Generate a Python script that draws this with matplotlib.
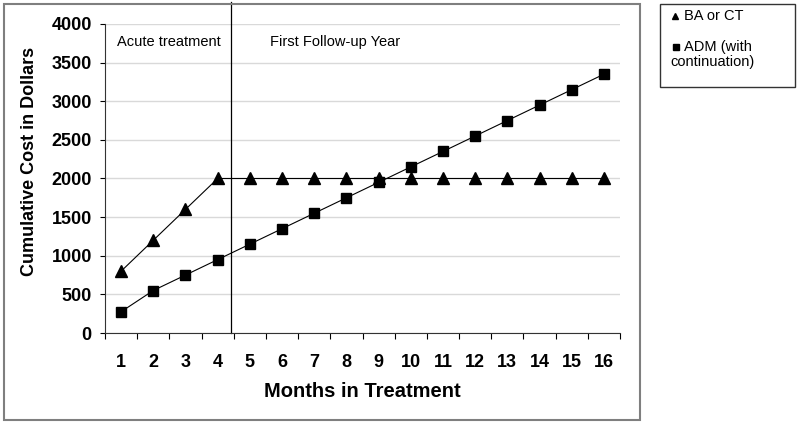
import matplotlib.pyplot as plt
from matplotlib.lines import Line2D
from matplotlib.patches import Rectangle

plt.rcParams['font.family'] = ['Liberation Sans', 'DejaVu Sans']

# ======================================================
# Data
# ======================================================

months = list(range(1, 17))
ba_ct = [800, 1200, 1600, 2000, 2000, 2000, 2000, 2000,
         2000, 2000, 2000, 2000, 2000, 2000, 2000, 2000]
adm = [275, 550, 750, 950, 1150, 1350, 1550, 1750,
       1950, 2150, 2350, 2550, 2750, 2950, 3150, 3350]
y_ticks = [0, 500, 1000, 1500, 2000, 2500, 3000, 3500, 4000]
phase_split = 4.41

W, H = 800, 426
fig = plt.figure(figsize=(W / 100, H / 100), dpi=100)
ax = fig.add_axes([105 / W, 1 - 333 / H, (620 - 105) / W, (333 - 24) / H])

# ======================================================
# Series
# ======================================================

ax.plot(months, ba_ct, color='black', lw=0.8, marker='^', ms=8.5,
        zorder=3, clip_on=False)
ax.plot(months, adm, color='black', lw=0.8, marker='s', ms=7,
        zorder=3, clip_on=False)

# ======================================================
# Axes
# ======================================================

ax.set_xlim(0.5, 16.5)
ax.set_ylim(0, 4000)
ax.set_yticks(y_ticks)
ax.set_yticklabels([str(v) for v in y_ticks], fontweight='bold', fontsize=13)
ax.set_xticks(months)
ax.set_xticklabels([str(m) for m in months], fontweight='bold', fontsize=13)
ax.tick_params(axis='x', length=0, pad=15)
ax.set_xticks([m + 0.5 for m in [0] + months], minor=True)
ax.tick_params(axis='x', which='minor', length=4.5, width=0.8, direction='out')
ax.tick_params(axis='y', length=3.5, width=0.8, pad=6)

for s in ['top', 'right']:
    ax.spines[s].set_visible(False)
for s in ['left', 'bottom']:
    ax.spines[s].set_linewidth(0.8)
    ax.spines[s].set_color('#333333')

ax.yaxis.grid(True, color='#d9d9d9', lw=1)
ax.set_axisbelow(True)

ax.set_xlabel('Months in Treatment', fontweight='bold', fontsize=14.5,
              labelpad=8)
fig.text(30 / W, 1 - 161 / H, 'Cumulative Cost in Dollars', rotation=90,
         fontweight='bold', fontsize=13, ha='center', va='center')

# phase separator
ax.plot([phase_split, phase_split], [0, 4000 * 1.07], color='black',
        lw=0.9, clip_on=False)
ax.text(117 / W, 1 - 42 / H, 'Acute treatment', transform=fig.transFigure,
        fontsize=10.5, va='center')
ax.text(270 / W, 1 - 42 / H, 'First Follow-up Year', transform=fig.transFigure,
        fontsize=10.5, va='center')

# ======================================================
# Frames and legend
# ======================================================

fig.patches.append(Rectangle((4 / W, 1 - 420 / H), 636 / W, 416 / H,
                             transform=fig.transFigure, fill=False,
                             edgecolor='#7f7f7f', lw=1.5))
fig.patches.append(Rectangle((660 / W, 1 - 87 / H), 135 / W, 83 / H,
                             transform=fig.transFigure, fill=False,
                             edgecolor='#333333', lw=1))

fig.lines.append(Line2D([675 / W], [1 - 16 / H], marker='^', ms=5,
                        color='black', transform=fig.transFigure))
fig.lines.append(Line2D([676 / W], [1 - 47 / H], marker='s', ms=5,
                        color='black', transform=fig.transFigure))
fig.text(684 / W, 1 - 16 / H, 'BA or CT', fontsize=10.5, va='center')
fig.text(684 / W, 1 - 47 / H, 'ADM (with', fontsize=10.5, va='center')
fig.text(670 / W, 1 - 62 / H, 'continuation)', fontsize=10.5, va='center')

fig.savefig('out.png', dpi=100)
